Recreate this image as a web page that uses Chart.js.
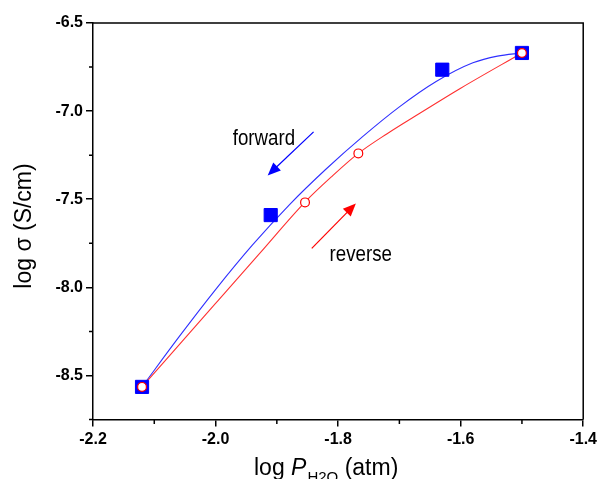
<!DOCTYPE html>
<html><head><meta charset="utf-8">
<script src="https://cdn.jsdelivr.net/npm/chart.js@4.4.1/dist/chart.umd.min.js"></script>
<style>html,body{margin:0;padding:0;background:#fff;}#wrap{width:600px;height:479px;position:relative;}</style>
</head><body><div id="wrap"><canvas id="c"></canvas></div>
<script>
// ---- data ----
const xMajorTicks = [-2.2, -2.0, -1.8, -1.6, -1.4];
const xMinorTicks = [-2.1, -1.9, -1.7, -1.5];
const yMajorTicks = [-8.5, -8.0, -7.5, -7.0, -6.5];
const yMinorTicks = [-8.75, -8.25, -7.75, -7.25, -6.75];

const forwardX = [-2.12, -1.91, -1.63, -1.50];
const forwardY = [-8.565, -7.59, -6.765, -6.67];
const reverseX = [-2.12, -1.854, -1.767, -1.50];
const reverseY = [-8.565, -7.518, -7.24, -6.67];

const forwardFitX = [-2.12, -2.06, -2.00, -1.94, -1.88, -1.82, -1.76, -1.70, -1.64, -1.58, -1.54, -1.50];
const forwardFitY = [-8.565, -8.283, -8.013, -7.761, -7.533, -7.330, -7.145, -6.976, -6.832, -6.726, -6.688, -6.67];
const reverseFitX = [-2.12, -2.00, -1.928, -1.854, -1.81, -1.767, -1.72, -1.668, -1.60, -1.50];
const reverseFitY = [-8.565, -8.091, -7.807, -7.516, -7.37, -7.24, -7.128, -7.015, -6.87, -6.67];

const forwardArrowX = [-1.840, -1.915];
const forwardArrowY = [-7.118, -7.365];
const reverseArrowX = [-1.843, -1.771];
const reverseArrowY = [-7.779, -7.524];

const forwardLabel = 'forward';
const forwardLabelPos = [-1.972, -7.195];
const reverseLabel = 'reverse';
const reverseLabelPos = [-1.814, -7.852];

const yTitle = 'log \u03C3 (S/cm)';
const xTitleParts = ['log ', 'P', 'H2O', ' (atm)'];

const pts = (xs, ys) => xs.map((x, i) => ({x: x, y: ys[i]}));

function drawArrow(ctx, x0, y0, x1, y1, color) {
  const a = Math.atan2(y1 - y0, x1 - x0), L = 13, W = 5.5;
  const c = Math.cos(a), s = Math.sin(a);
  ctx.save();
  ctx.strokeStyle = color; ctx.fillStyle = color; ctx.lineWidth = 1.2;
  ctx.beginPath(); ctx.moveTo(x0, y0); ctx.lineTo(x1 - c * L * 0.8, y1 - s * L * 0.8); ctx.stroke();
  ctx.beginPath();
  ctx.moveTo(x1, y1);
  ctx.lineTo(x1 - L * c + W * s, y1 - L * s - W * c);
  ctx.lineTo(x1 - L * c - W * s, y1 - L * s + W * c);
  ctx.closePath(); ctx.fill();
  ctx.restore();
}

const decor = {
  id: 'decor',
  afterDraw(chart) {
    const ctx = chart.ctx, xs = chart.scales.x, ys = chart.scales.y, ca = chart.chartArea;
    ctx.save();
    // frame top & right
    ctx.strokeStyle = '#000'; ctx.lineWidth = 1.5;
    ctx.beginPath();
    ctx.moveTo(ca.left, ca.top); ctx.lineTo(ca.right, ca.top); ctx.lineTo(ca.right, ca.bottom);
    ctx.stroke();
    // minor ticks
    ctx.beginPath();
    yMinorTicks.forEach(v => { const p = ys.getPixelForValue(v); ctx.moveTo(ca.left - 4, p); ctx.lineTo(ca.left, p); });
    xMinorTicks.forEach(v => { const p = xs.getPixelForValue(v); ctx.moveTo(p, ca.bottom); ctx.lineTo(p, ca.bottom + 4.5); });
    ctx.stroke();
    // arrows
    drawArrow(ctx, xs.getPixelForValue(forwardArrowX[0]), ys.getPixelForValue(forwardArrowY[0]),
      xs.getPixelForValue(forwardArrowX[1]), ys.getPixelForValue(forwardArrowY[1]), '#0000ff');
    drawArrow(ctx, xs.getPixelForValue(reverseArrowX[0]), ys.getPixelForValue(reverseArrowY[0]),
      xs.getPixelForValue(reverseArrowX[1]), ys.getPixelForValue(reverseArrowY[1]), '#ff0000');
    // labels
    ctx.fillStyle = '#000';
    ctx.font = '22px "Liberation Sans", Arial, sans-serif';
    ctx.textBaseline = 'alphabetic'; ctx.textAlign = 'left';
    [[forwardLabel, forwardLabelPos], [reverseLabel, reverseLabelPos]].forEach(([t, p]) => {
      ctx.save();
      ctx.translate(xs.getPixelForValue(p[0]), ys.getPixelForValue(p[1]));
      ctx.scale(0.85, 1);
      ctx.fillText(t, 0, 0);
      ctx.restore();
    });
    // y title
    ctx.save();
    ctx.font = '23px "Liberation Sans", Arial, sans-serif';
    ctx.translate(31, 226); ctx.rotate(-Math.PI / 2);
    ctx.textAlign = 'center';
    ctx.fillText(yTitle, 0, 0);
    ctx.restore();
    // x title
    let x = 254, base = 475;
    ctx.font = '23px "Liberation Sans", Arial, sans-serif';
    ctx.fillText(xTitleParts[0], x, base); x += ctx.measureText(xTitleParts[0]).width;
    ctx.font = 'italic 23px "Liberation Sans", Arial, sans-serif';
    ctx.fillText(xTitleParts[1], x, base); x += ctx.measureText(xTitleParts[1]).width + 1;
    ctx.font = '15px "Liberation Sans", Arial, sans-serif';
    ctx.fillText(xTitleParts[2], x, base + 7); x += ctx.measureText(xTitleParts[2]).width;
    ctx.font = '23px "Liberation Sans", Arial, sans-serif';
    ctx.fillText(xTitleParts[3], x, base);
    ctx.restore();
  }
};

const tickFont = {family: '"Liberation Sans", Arial, sans-serif', size: 16, weight: 'bold'};

new Chart(document.getElementById('c'), {
  type: 'scatter',
  data: {
    datasets: [
      {label: 'reverse', data: pts(reverseX, reverseY), pointStyle: 'circle', pointRadius: 4.4,
       pointBackgroundColor: '#ffffff', pointBorderColor: '#ff0000', pointBorderWidth: 1.2, showLine: false, order: 0},
      {label: 'forward', data: pts(forwardX, forwardY), pointStyle: 'rect', pointRadius: 9.3,
       pointBackgroundColor: '#0000ff', pointBorderColor: '#0000ff', pointBorderWidth: 1, showLine: false, order: 1},
      {label: 'reverse fit', data: pts(reverseFitX, reverseFitY), showLine: true, pointRadius: 0,
       borderColor: '#ff3030', borderWidth: 1.1, cubicInterpolationMode: 'monotone', order: 2},
      {label: 'forward fit', data: pts(forwardFitX, forwardFitY), showLine: true, pointRadius: 0,
       borderColor: '#3030ff', borderWidth: 1.1, cubicInterpolationMode: 'monotone', order: 3}
    ]
  },
  options: {
    responsive: true, maintainAspectRatio: false, devicePixelRatio: 1,
    animation: false, events: [],
    layout: {padding: {top: 23, right: 15.5, bottom: 0, left: 0}},
    plugins: {legend: {display: false}, tooltip: {enabled: false}},
    scales: {
      x: {
        type: 'linear', position: 'bottom', min: -2.2, max: -1.4,
        afterBuildTicks: s => { s.ticks = xMajorTicks.map(v => ({value: v})); },
        afterFit: s => { s.height = 59.5; },
        ticks: {font: tickFont, color: '#000', padding: 3, maxRotation: 0, callback: v => Number(v).toFixed(1)},
        grid: {drawOnChartArea: false, drawTicks: true, tickLength: 7, color: '#000', lineWidth: 1.5},
        border: {display: true, color: '#000', width: 1.5}
      },
      y: {
        type: 'linear', position: 'left', min: -8.75, max: -6.5,
        afterBuildTicks: s => { s.ticks = yMajorTicks.map(v => ({value: v})); },
        afterFit: s => { s.width = 93; },
        ticks: {font: tickFont, color: '#000', padding: 3, callback: v => Number(v).toFixed(1)},
        grid: {drawOnChartArea: false, drawTicks: true, tickLength: 7, color: '#000', lineWidth: 1.5},
        border: {display: true, color: '#000', width: 1.5}
      }
    }
  },
  plugins: [decor]
});
</script>
</body></html>
